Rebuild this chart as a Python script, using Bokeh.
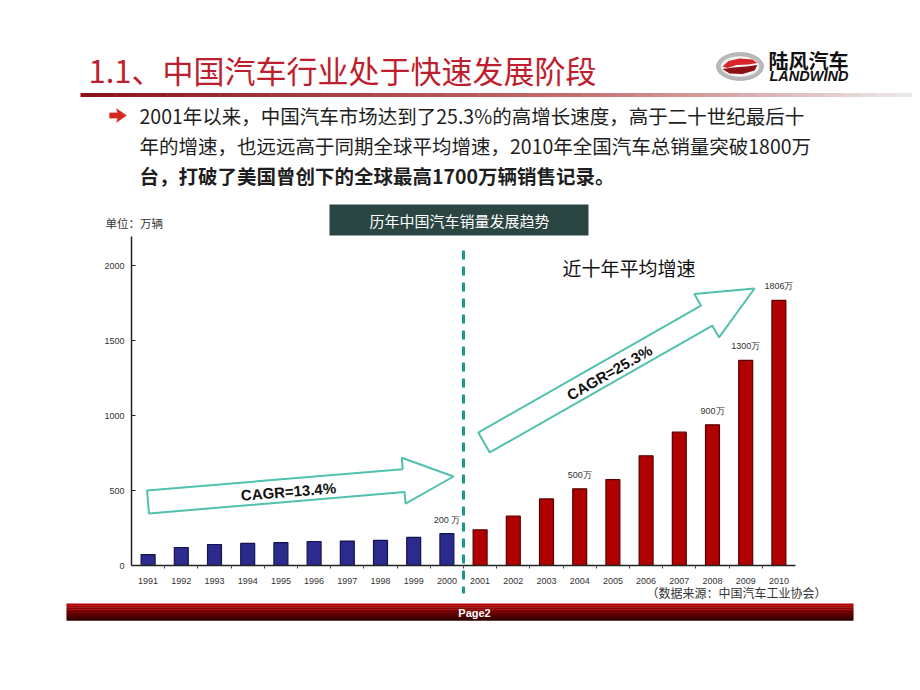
import numpy as np
from bokeh.plotting import figure
from bokeh.models import (Range1d, FixedTicker, Label, BoxAnnotation, PolyAnnotation,
                          Arrow, ColumnDataSource)
from bokeh.core.properties import value
from bokeh.embed import file_html
from bokeh.resources import INLINE

# ---------------- data ----------------
years = ["1991", "1992", "1993", "1994", "1995", "1996", "1997", "1998", "1999", "2000",
         "2001", "2002", "2003", "2004", "2005", "2006", "2007", "2008", "2009", "2010"]
sales = [73, 120, 140, 147, 153, 160, 163, 167, 187, 213,
         238, 329, 444, 511, 573, 731, 889, 938, 1367, 1767]
recent_start = "2001"
label_years = ["2000", "2004", "2008", "2009", "2010"]
label_texts = ["200 万", "500万", "900万", "1300万", "1806万"]
y_ticks = [0, 500, 1000, 1500, 2000]
cagr_texts = ["CAGR=13.4%", "CAGR=25.3%"]

title_text = "1.1、中国汽车行业处于快速发展阶段"
bullet_lines = ["2001年以来，中国汽车市场达到了25.3%的高增长速度，高于二十世纪最后十",
                "年的增速，也远远高于同期全球平均增速，2010年全国汽车总销量突破1800万",
                "台，打破了美国曾创下的全球最高1700万辆销售记录。"]
chart_title = "历年中国汽车销量发展趋势"
unit_text = "单位：万辆"
recent_text = "近十年平均增速"
source_text = "（数据来源：中国汽车工业协会）"
page_text = "Page2"

# ---------------- geometry (canvas pixels -> data) ----------------
W, H = 912, 682
FL, FT, FR, FB = 131, 236, 795, 565          # chart area in canvas pixels
CX0, CX1 = -0.5, len(years) - 0.5            # category axis extent
CY0, CY1 = 0.0, (FB - FT) / 0.15             # value axis extent


def dx(px):
    return CX0 + (px - FL) * (CX1 - CX0) / (FR - FL)


def dy(py):
    return CY0 + (FB - py) * (CY1 - CY0) / (FB - FT)


p = figure(width=W, height=H, x_range=Range1d(dx(0), dx(W)), y_range=Range1d(dy(H), dy(0)),
           output_backend="svg", toolbar_location=None, min_border=0)
p.outline_line_color = None
p.xgrid.visible = False
p.ygrid.visible = False
p.background_fill_color = "white"
p.border_fill_color = "white"

# axes (library axes pinned at the chart origin)
xs_idx = list(range(len(years)))
p.xaxis.fixed_location = CY0
p.xaxis.bounds = (CX0, CX1)
p.xaxis.ticker = FixedTicker(ticks=xs_idx, minor_ticks=[i + 0.5 for i in xs_idx[:-1]])
p.xaxis.major_label_overrides = {i: y for i, y in zip(xs_idx, years)}
p.xaxis.major_tick_out = 0
p.xaxis.major_tick_in = 0
p.xaxis.minor_tick_out = 3
p.xaxis.minor_tick_in = 0
p.xaxis.minor_tick_line_color = "#444444"
p.xaxis.major_label_standoff = 9
p.yaxis.fixed_location = CX0
p.yaxis.bounds = (CY0, CY1)
p.yaxis.ticker = FixedTicker(ticks=y_ticks)
p.yaxis.major_tick_in = 4
p.yaxis.major_tick_out = 0
p.yaxis.minor_tick_line_color = None
p.yaxis.major_label_standoff = 7
for ax in (p.xaxis, p.yaxis):
    ax.axis_line_color = "#222222"
    ax.axis_line_width = 1.5
    ax.major_tick_line_color = "#222222"
    ax.major_label_text_font = "Liberation Sans"
    ax.major_label_text_font_size = "9px"
    ax.major_label_text_color = "#333333"


def box(x0, x1, y0, y1, color):
    p.add_layout(BoxAnnotation(left=dx(x0), right=dx(x1), top=dy(y0), bottom=dy(y1),
                               fill_color=color, fill_alpha=1.0, line_color=None))


def lerp(c0, c1, t):
    return "#%02x%02x%02x" % tuple(int(round(a + (b - a) * t)) for a, b in zip(c0, c1))


# bars
split = years.index(recent_start)
colors = ["#2b2b8e" if i < split else "#b00000" for i in xs_idx]
lines = ["#12134f" if i < split else "#5a0000" for i in xs_idx]
src = ColumnDataSource(dict(x=xs_idx, top=sales, fill=colors, line=lines))
p.vbar(x="x", top="top", width=0.42, fill_color="fill", line_color="line", line_width=1.2, source=src)

# value labels
lx = [years.index(y) for y in label_years]
ly = [sales[i] for i in lx]
p.text(x=lx, y=ly, text=label_texts, text_font=value("Liberation Sans"), text_font_size="9px",
       text_color="#333333", text_align="center", text_baseline="bottom", y_offset=-9)


# hollow block arrows
def arrow_poly(x0, y0, x1, y1, half_w, head_half, head_len):
    b = np.array([x0, y0], float)
    d = np.array([x1 - x0, y1 - y0], float)
    L = np.hypot(*d)
    u = d / L
    n = np.array([-u[1], u[0]])
    hb = b + u * (L - head_len)
    pts = [b + n * half_w, hb + n * half_w, hb + n * head_half, b + u * L,
           hb - n * head_half, hb - n * half_w, b - n * half_w]
    return [dx(q[0]) for q in pts], [dy(q[1]) for q in pts]


teal = "#4fc1ad"
ax1, ay1 = arrow_poly(147.5, 501.5, 453, 476, 11.5, 23, 50)
ax2, ay2 = arrow_poly(483.5, 442, 754, 288, 11.5, 25, 55)
p.patch(ax1, ay1, fill_color="white", line_color=teal, line_width=2)
p.patch(ax2, ay2, fill_color="white", line_color=teal, line_width=2)
p.add_layout(Label(x=dx(288), y=dy(491), text=cagr_texts[0], angle=np.radians(4.6),
                   text_font="Liberation Sans", text_font_style="bold", text_font_size="15px",
                   text_color="#111111", text_align="center", text_baseline="middle"))
p.add_layout(Label(x=dx(609), y=dy(372), text=cagr_texts[1], angle=np.radians(29.7),
                   text_font="Liberation Sans", text_font_style="bold", text_font_size="15px",
                   text_color="#111111", text_align="center", text_baseline="middle"))

# dashed divider
p.add_layout(Arrow(end=None, x_start=split - 0.5, y_start=dy(250), x_end=split - 0.5, y_end=dy(593),
                   line_color="#1b9a8c", line_width=3, line_dash="9 7"))

p.add_layout(Label(x=dx(562), y=dy(267), text=recent_text, text_font="Noto Sans CJK SC",
                   text_font_size="19px", text_color="#111111", text_baseline="middle"))

# chart header box
box(329, 588, 204, 235, "#2b4543")
p.add_layout(Label(x=dx(459), y=dy(220), text=chart_title, text_font="Noto Sans CJK SC",
                   text_font_size="15px", text_color="white", text_align="center",
                   text_baseline="middle"))
p.add_layout(Label(x=dx(105), y=dy(222), text=unit_text, text_font="Noto Sans CJK SC",
                   text_font_size="11.5px", text_color="#333333", text_baseline="middle"))
p.add_layout(Label(x=dx(736), y=dy(592), text=source_text, text_font="Noto Sans CJK SC",
                   text_font_size="12px", text_color="#333333", text_align="center",
                   text_baseline="middle"))

# title + gradient underline
p.add_layout(Label(x=dx(88), y=dy(69), text=title_text, text_font="Noto Sans CJK SC",
                   text_font_size="31px", text_color="#be1e2d", text_baseline="middle"))
nseg = 48
edges = np.linspace(80, 912, nseg + 1)
for i in range(nseg):
    t = i / (nseg - 1)
    if t < 0.6:
        c = lerp((140, 18, 24), (196, 110, 112), t / 0.6)
    else:
        c = lerp((196, 110, 112), (236, 232, 232), (t - 0.6) / 0.4)
    box(edges[i], edges[i + 1] + 0.5, 92.5, 96.5, c)

# bullet arrow + text
bx = [109, 117, 116, 126, 116, 117, 109]
by = [112.3, 112.3, 108, 115, 122, 117.7, 117.7]
p.add_layout(PolyAnnotation(xs=[dx(v) for v in bx], ys=[dy(v) for v in by],
                            fill_color="#d42a1e", fill_alpha=1.0, line_color="#d42a1e"))
for k, (line, yy) in enumerate(zip(bullet_lines, [115, 145, 175])):
    p.add_layout(Label(x=dx(139), y=dy(yy), text=line, text_font="Noto Sans CJK SC",
                       text_font_size="19.5px", text_color="#1e1e1e", text_baseline="middle",
                       text_font_style="bold" if k == 2 else "normal"))

# logo
th = np.linspace(0, 2 * np.pi, 60)
cx, cy = 739.5, 66
p.add_layout(PolyAnnotation(xs=[dx(cx + 23.5 * np.cos(t)) for t in th],
                            ys=[dy(cy + 14 * np.sin(t)) for t in th],
                            fill_color="#b9b9b9", fill_alpha=1.0, line_color="#6f6f6f", line_width=1))
p.add_layout(PolyAnnotation(xs=[dx(cx + 19.5 * np.cos(t)) for t in th],
                            ys=[dy(cy + 10.5 * np.sin(t)) for t in th],
                            fill_color="#f3f3f3", fill_alpha=1.0, line_color="#8a8a8a", line_width=1))
rx_ = [722, 728, 739, 752, 757, 748, 736, 727]
ry_ = [66, 60.5, 58, 59, 62.5, 64, 64.5, 67.5]
p.add_layout(PolyAnnotation(xs=[dx(v) for v in rx_], ys=[dy(v) for v in ry_],
                            fill_color="#d8232a", fill_alpha=1.0, line_color=None))
rx2 = [722, 733, 746, 757, 754, 742, 729]
ry2 = [68.5, 67, 66, 64.5, 70, 73.5, 73]
p.add_layout(PolyAnnotation(xs=[dx(v) for v in rx2], ys=[dy(v) for v in ry2],
                            fill_color="#8c1015", fill_alpha=1.0, line_color=None))
p.add_layout(Label(x=dx(768), y=dy(60), text="陆风汽车", text_font="Noto Sans CJK SC",
                   text_font_style="bold", text_font_size="20px", text_color="#111111",
                   text_baseline="middle"))
p.add_layout(Label(x=dx(769), y=dy(75), text="LANDWIND", text_font="Liberation Sans",
                   text_font_style="bold italic", text_font_size="14.5px", text_color="#111111",
                   text_baseline="middle"))

# footer bar
nf = 9
fedges = np.linspace(603, 620, nf + 1)
for i in range(nf):
    t = i / (nf - 1)
    box(66, 853, fedges[i], fedges[i + 1] + 0.3, lerp((178, 0, 0), (50, 0, 0), t))
p.add_layout(Label(x=dx(474), y=dy(612), text=page_text, text_font="Liberation Sans",
                   text_font_style="bold", text_font_size="11px", text_color="white",
                   text_align="center", text_baseline="middle"))

open("out.html", "w").write(file_html(p, INLINE))
